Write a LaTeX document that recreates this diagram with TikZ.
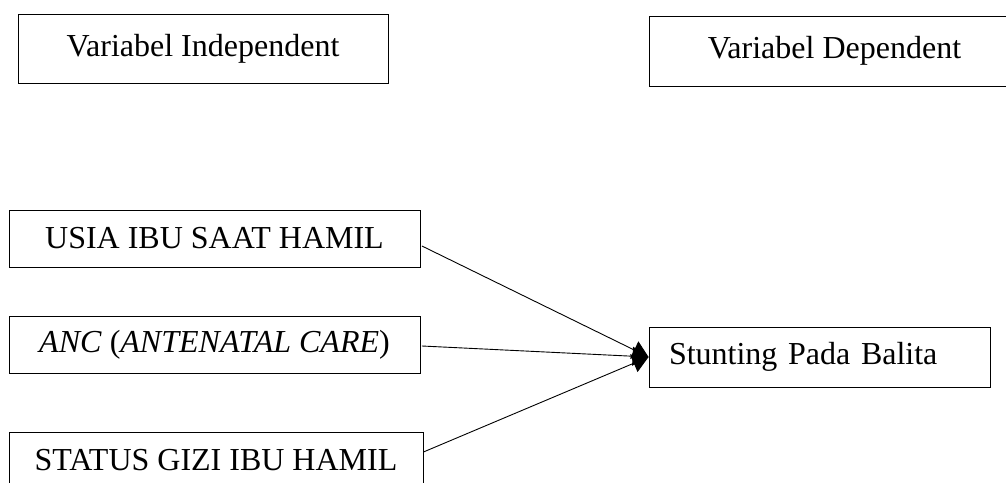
\documentclass[tikz,border=0pt]{standalone}
\usepackage{fontspec}
\setmainfont{Liberation Serif}
\usetikzlibrary{arrows.meta}
\begin{document}
\begin{tikzpicture}[x=1pt,y=-1pt,
		box/.style={draw,line width=0.9pt,inner sep=0pt,font=\fontsize{32}{38}\selectfont},
		arr/.style={line width=0.9pt,-{Triangle[length=16pt,width=19pt]}}]
		\useasboundingbox (0,0) rectangle (1006,482);
		\clip (0,0) rectangle (1006,482);
		\node[box,minimum width=370,minimum height=69] (indep) at (203,48.5) {Variabel Independent};
		\node[box,minimum width=371,minimum height=70] (dep) at (834.5,51) {Variabel Dependent};
		\node[box,minimum width=411,minimum height=57] (usia) at (214.5,238.5) {USIA IBU SAAT HAMIL};
		\node[box,minimum width=411,minimum height=57] (anc) at (214.5,344.5) {\textit{ANC} (\textit{ANTENATAL CARE})};
		\node[box,minimum width=414,minimum height=57] (gizi) at (216,460.5) {STATUS GIZI IBU HAMIL};
		\node[box,minimum height=60,text width=301pt,inner xsep=20pt,align=left] (stunting) at (819.5,357) {Stunting Pada Balita};
		\draw[arr] ([shift={(1.5,7.5)}]usia.east) -- (stunting.west);
		\draw[arr] ([shift={(1.5,1.5)}]anc.east) -- (stunting.west);
		\draw[arr] ([yshift=8.5]gizi.east) -- (stunting.west);
		\end{tikzpicture}
\end{document}
